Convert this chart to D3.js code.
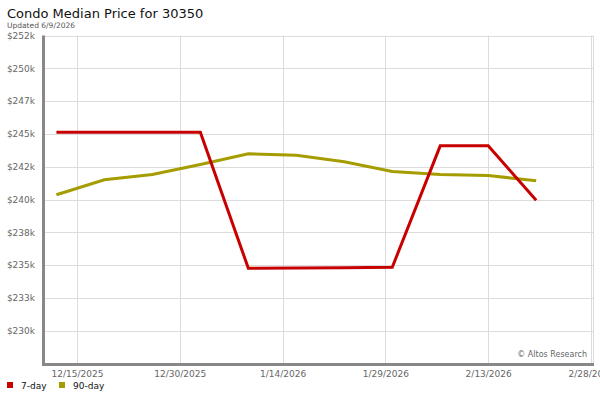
<!DOCTYPE html>
<html><head><meta charset="utf-8">
<script src="https://cdn.jsdelivr.net/npm/d3@7"></script>
<style>body{margin:0;background:#fff;} svg{display:block;font-family:"DejaVu Sans",Verdana,sans-serif;}</style>
</head><body><svg id="c" width="600" height="400"></svg>
<script>
const dates = ["2025-12-12","2025-12-19","2025-12-26","2026-01-02","2026-01-09","2026-01-16","2026-01-23","2026-01-30","2026-02-06","2026-02-13","2026-02-20"];
const sevenDay = [245130,245130,245130,245130,234760,234770,234800,234830,244090,244090,239950];
const ninetyDay = [240360,241500,241900,242670,243490,243380,242880,242140,241900,241830,241430];
const yTicks = [227500,230000,232500,235000,237500,240000,242500,245000,247500,250000,252500];
const yTickLabels = ["","$230k","$233k","$235k","$238k","$240k","$242k","$245k","$247k","$250k","$252k"];
const xTicks = ["2025-12-15","2025-12-30","2026-01-14","2026-01-29","2026-02-13","2026-02-28"];
const xTickLabels = ["12/15/2025","12/30/2025","1/14/2026","1/29/2026","2/13/2026","2/28/2026"];
const seriesNames = ["7-day","90-day"];
const colors = ["#c80000","#a59d00"];

const parse = d3.timeParse("%Y-%m-%d");
const svg = d3.select("#c");
const L = 45, R = 593, T = 35.5, B = 363.5;
const x = d3.scaleTime()
  .domain([new Date(2025,11,10,8), new Date(2026,1,28,7)])
  .range([L, R]);
const y = d3.scaleLinear().domain([227500,252500]).range([B, T]);

// grid
const g = svg.append("g");
g.selectAll(".hg").data(yTicks).enter().append("line")
  .attr("x1", L).attr("x2", R)
  .attr("y1", d => Math.round(y(d))+0.5).attr("y2", d => Math.round(y(d))+0.5)
  .attr("stroke", "#dcdcdc").attr("stroke-width", 1);
g.selectAll(".vg").data(xTicks).enter().append("line")
  .attr("x1", d => Math.round(x(parse(d)))+0.5).attr("x2", d => Math.round(x(parse(d)))+0.5)
  .attr("y1", T).attr("y2", B)
  .attr("stroke", "#dcdcdc").attr("stroke-width", 1);
g.append("line").attr("x1", R+0.5).attr("x2", R+0.5).attr("y1", T).attr("y2", B)
  .attr("stroke", "#dcdcdc");

// axes
const yAxis = d3.axisLeft(y).tickValues(yTicks)
  .tickFormat((d,i) => yTickLabels[i]).tickSize(0).tickPadding(7);
const ya = svg.append("g").attr("transform", `translate(${L-3},0)`).call(yAxis);
ya.select(".domain").remove();
ya.selectAll("text").attr("fill", "#666").style("font-size", "9px")
  .style("font-family", "'DejaVu Sans',Verdana,sans-serif");

const xAxis = d3.axisBottom(x).tickValues(xTicks.map(parse))
  .tickFormat((d,i) => xTickLabels[i]).tickSize(0).tickPadding(6);
const xa = svg.append("g").attr("transform", `translate(0,${B+1})`).call(xAxis);
xa.select(".domain").remove();
xa.selectAll("text").attr("fill", "#666").style("font-size", "9px")
  .style("font-family", "'DejaVu Sans',Verdana,sans-serif");

svg.append("line").attr("x1", L-1.5).attr("x2", L-1.5).attr("y1", T).attr("y2", B+2.5)
  .attr("stroke", "#888").attr("stroke-width", 3);
svg.append("line").attr("x1", L-3).attr("x2", R+1).attr("y1", B+1).attr("y2", B+1)
  .attr("stroke", "#888").attr("stroke-width", 3);

// lines
const line = d3.line().x((d,i) => x(parse(dates[i]))).y(d => y(d));
[ninetyDay, sevenDay].forEach((s, k) => {
  svg.append("path").datum(s).attr("d", line)
    .attr("fill", "none").attr("stroke", k === 0 ? colors[1] : colors[0])
    .attr("stroke-width", 3).attr("stroke-linejoin", "miter");
});

// texts
svg.append("text").attr("x", 7).attr("y", 18).text("Condo Median Price for 30350")
  .style("font-size", "13px").attr("fill", "#111");
svg.append("text").attr("x", 7).attr("y", 28).text("Updated 6/9/2026")
  .style("font-size", "7.5px").attr("fill", "#555");
svg.append("text").attr("x", 587).attr("y", 357).attr("text-anchor", "end")
  .text("© Altos Research").style("font-size", "8px").attr("fill", "#666");

// legend
const lg = svg.append("g");
const lx = [7, 59];
seriesNames.forEach((n, i) => {
  lg.append("rect").attr("x", lx[i]).attr("y", 382).attr("width", 6).attr("height", 6)
    .attr("fill", colors[i]);
  lg.append("text").attr("x", lx[i] + 14).attr("y", 389).text(n)
    .style("font-size", "9px").attr("fill", "#111");
});
</script></body></html>
